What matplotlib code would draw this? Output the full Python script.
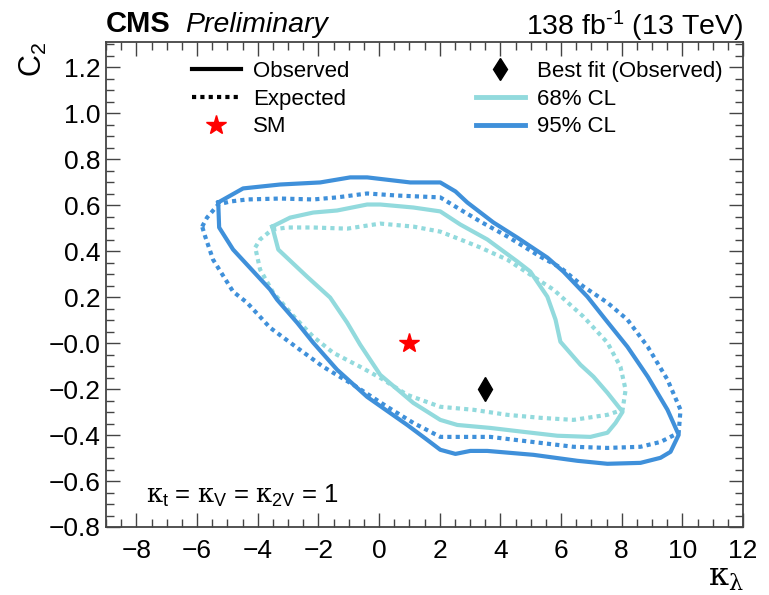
import numpy as np
import matplotlib
matplotlib.use('Agg')
import matplotlib.pyplot as plt
from matplotlib.lines import Line2D
from matplotlib.ticker import MultipleLocator, FixedLocator

plt.rcParams['font.family'] = ['Liberation Sans', 'DejaVu Sans']
plt.rcParams['mathtext.fontset'] = 'custom'
plt.rcParams['mathtext.rm'] = 'Liberation Sans'
plt.rcParams['mathtext.it'] = 'DejaVu Serif'
plt.rcParams['mathtext.bf'] = 'Liberation Sans:bold'

# contours (kappa_lambda, c2)
obs95_x = [-5.30, -4.48, -3.26, -1.94, -0.95, -0.39, 1.03, 2.02, 2.52, 2.91, 3.77, 4.56, 5.55, 6.08,
           6.87, 7.47, 8.19, 8.86, 9.51, 9.88, 9.61, 9.28, 8.62, 7.53, 6.54, 5.09, 3.57, 3.01, 2.52,
           2.02, 1.59, 0.93, -0.39, -1.38, -2.17, -2.70, -3.36, -3.59, -4.81, -5.27, -5.30]
obs95_y = [0.612, 0.673, 0.690, 0.699, 0.721, 0.721, 0.699, 0.699, 0.660, 0.612, 0.525, 0.459, 0.372,
           0.311, 0.202, 0.102, -0.016, -0.146, -0.290, -0.399, -0.473, -0.499, -0.521, -0.525, -0.512,
           -0.486, -0.469, -0.469, -0.482, -0.464, -0.421, -0.356, -0.234, -0.116, 0.002, 0.089, 0.189,
           0.233, 0.407, 0.503, 0.612]

exp95_x = [-5.83, -5.67, -5.30, -4.91, -4.35, -3.26, -2.17, -1.38, -0.39, 0.60, 2.02, 2.68, 3.34, 4.23,
           5.32, 5.98, 6.74, 7.53, 8.19, 8.86, 9.51, 9.94, 9.88, 9.28, 8.62, 7.53, 6.41, 5.32, 3.67, 2.58,
           2.02, 1.13, 0.27, -0.85, -1.84, -2.70, -3.59, -4.35, -4.81, -5.47, -5.73, -5.83]
exp95_y = [0.507, 0.546, 0.603, 0.616, 0.625, 0.629, 0.625, 0.634, 0.651, 0.642, 0.634, 0.581, 0.529,
           0.464, 0.376, 0.329, 0.246, 0.176, 0.102, -0.016, -0.159, -0.290, -0.390, -0.430, -0.451,
           -0.456, -0.451, -0.434, -0.408, -0.408, -0.408, -0.347, -0.277, -0.181, -0.103, -0.020, 0.067,
           0.176, 0.224, 0.363, 0.464, 0.507]

obs68_x = [-3.52, -2.93, -2.17, -1.38, -0.39, 0.04, 1.13, 2.02, 2.68, 3.57, 4.56, 4.99, 5.55, 5.82, 5.98,
           6.64, 7.07, 7.53, 8.03, 7.80, 7.53, 6.97, 5.88, 4.76, 3.67, 2.58, 2.02, 1.13, 0.04, -0.62,
           -1.05, -1.61, -2.37, -3.32, -3.52]
obs68_y = [0.507, 0.546, 0.568, 0.577, 0.603, 0.603, 0.590, 0.573, 0.516, 0.451, 0.355, 0.311, 0.202,
           0.102, 0.006, -0.094, -0.146, -0.216, -0.299, -0.347, -0.390, -0.408, -0.403, -0.386, -0.369,
           -0.356, -0.334, -0.260, -0.138, -0.007, 0.089, 0.198, 0.289, 0.407, 0.507]

exp68_x = [-4.08, -3.92, -3.52, -3.03, -2.17, -1.05, 0.04, 1.13, 2.02, 2.68, 3.34, 4.23, 5.09, 5.75, 6.74,
           7.53, 7.96, 8.13, 8.03, 7.53, 6.41, 5.32, 4.23, 3.11, 2.02, 0.93, 0.04, -0.62, -1.51, -2.17,
           -2.83, -3.49, -3.92, -4.08]
exp68_y = [0.416, 0.451, 0.494, 0.503, 0.503, 0.498, 0.520, 0.507, 0.485, 0.451, 0.416, 0.363, 0.289,
           0.233, 0.115, 0.002, -0.103, -0.203, -0.290, -0.312, -0.334, -0.325, -0.312, -0.290, -0.277,
           -0.225, -0.151, -0.103, -0.042, 0.028, 0.119, 0.220, 0.320, 0.416]

sm_point = (1.0, 0.0)
bestfit_point = (3.5, -0.2)

xticks = [-8, -6, -4, -2, 0, 2, 4, 6, 8, 10, 12]
yticks = [-0.8, -0.6, -0.4, -0.2, 0.0, 0.2, 0.4, 0.6, 0.8, 1.0, 1.2]
ytick_labels = ['\u22120.8', '\u22120.6', '\u22120.4', '\u22120.2', '\u22120.0',
                '0.2', '0.4', '0.6', '0.8', '1.0', '1.2']

c95 = '#3f90da'
c68 = '#92dadd'
dotted = (0, (1, 1))

fig = plt.figure(figsize=(7.69, 5.95), dpi=100)
ax = fig.add_axes([106/769, 1-527/595, 637/769, 485/595])

ax.plot(exp95_x, exp95_y, color=c95, lw=3, ls=dotted)
ax.plot(exp68_x, exp68_y, color=c68, lw=3, ls=dotted)
ax.plot(obs95_x, obs95_y, color=c95, lw=3)
ax.plot(obs68_x, obs68_y, color=c68, lw=3)
ax.plot(*sm_point, marker='*', color='red', ms=15, ls='none')
ax.plot(*bestfit_point, marker='d', color='black', ms=12, ls='none')

ax.set_xlim(-9, 12)
ax.set_ylim(-0.8, 1.31)
ax.xaxis.set_major_locator(FixedLocator(xticks))
ax.xaxis.set_minor_locator(MultipleLocator(0.5))
ax.yaxis.set_major_locator(FixedLocator(yticks))
ax.yaxis.set_minor_locator(MultipleLocator(0.05))
ax.set_yticklabels(ytick_labels)
ax.tick_params(which='both', direction='in', top=True, right=True, width=1, color='#444444')
ax.tick_params(which='major', length=10, labelsize=19)
ax.tick_params(which='minor', length=5.5)
ax.tick_params(axis='x', pad=9)
ax.tick_params(axis='y', pad=4)
for s in ax.spines.values():
    s.set_linewidth(1.3)
    s.set_color('#444444')

ax.text(1.0, -0.1216, r'$\kappa_{\lambda}$', transform=ax.transAxes, ha='right', va='baseline', fontsize=23)
fig.text(18/769, 1-42/595, r'$\mathrm{C}_{2}$', rotation=90, ha='left', va='top', fontsize=22)

ax.text(0.0, 1.0206, 'CMS', transform=ax.transAxes, fontsize=21, fontweight='bold', ha='left', va='baseline')
ax.text(0.124, 1.0206, 'Preliminary', transform=ax.transAxes, fontsize=20.5, style='italic', ha='left', va='baseline')
ax.text(1.0, 1.0144, '138 fb$^{\\mathrm{\u20101}}$ (13 TeV)', transform=ax.transAxes, fontsize=20.5,
        ha='right', va='baseline')

ax.text(-7.68, -0.695, r'$\kappa_{\mathrm{t}}$ = $\kappa_{\mathrm{V}}$ = $\kappa_{\mathrm{2V}}$ = 1',
        fontsize=18.5, va='baseline')

leg_kw = dict(loc='upper left', frameon=False, fontsize=16, handlelength=2.2, handletextpad=0.55,
              labelspacing=0.3, borderpad=0, borderaxespad=0)
h1 = [Line2D([], [], color='black', lw=3),
      Line2D([], [], color='black', lw=3, ls=dotted),
      Line2D([], [], color='red', marker='*', ms=15, ls='none')]
leg1 = fig.legend(h1, ['Observed', 'Expected', 'SM'], bbox_to_anchor=(192/769, 1-61/595), **leg_kw)
h2 = [Line2D([], [], color='black', marker='d', ms=11.5, ls='none'),
      Line2D([], [], color=c68, lw=3.5),
      Line2D([], [], color=c95, lw=3.5)]
leg2 = fig.legend(h2, ['Best fit (Observed)', '68% CL', '95% CL'], bbox_to_anchor=(476/769, 1-61/595), **leg_kw)

fig.savefig('out.png', dpi=100)
